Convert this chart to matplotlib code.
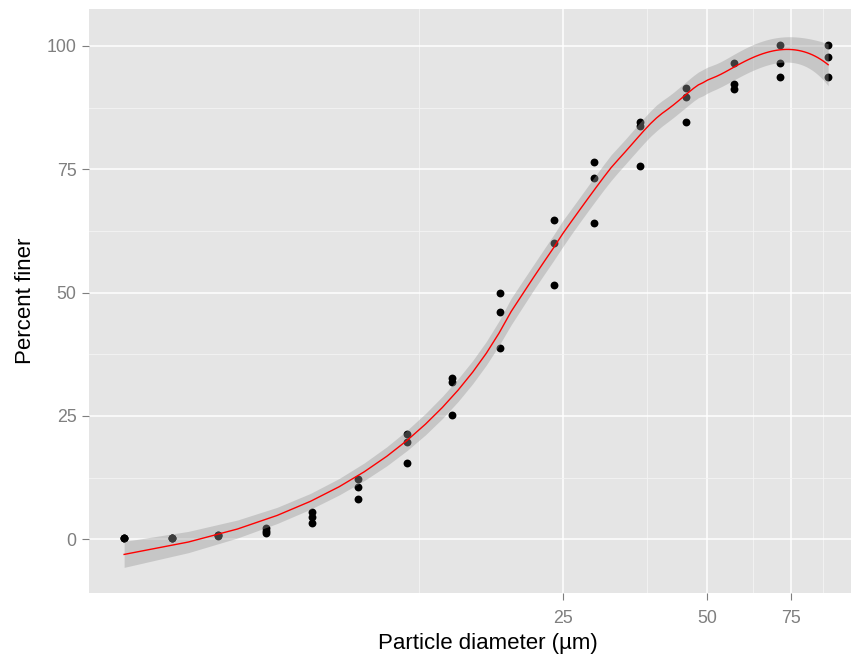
import matplotlib
matplotlib.use("Agg")
import matplotlib.pyplot as plt
from matplotlib.ticker import FixedLocator, NullFormatter
import numpy as np

# particle size (um), three replicate measurements per size
diam = [3.02, 3.81, 4.75, 5.99, 7.47, 9.33, 11.78, 14.66,
        18.46, 23.94, 29.0, 36.2, 45.25, 56.9, 71.2, 89.7]
rep1 = [0.2, 0.3, 0.9, 2.3, 5.5, 12.2, 21.3, 32.6, 50.0, 64.8, 76.4, 84.6, 91.5, 96.6, 100.1, 100.1]
rep2 = [0.2, 0.2, 0.8, 1.6, 4.6, 10.5, 19.8, 31.9, 46.0, 60.0, 73.2, 83.7, 89.7, 92.2, 96.6, 97.8]
rep3 = [0.2, 0.2, 0.7, 1.3, 3.4, 8.2, 15.5, 25.1, 38.7, 51.6, 64.1, 75.6, 84.5, 91.2, 93.7, 93.7]

x_breaks = [25, 50, 75]
x_minor = [12.5, 37.5, 62.5, 87.5]
y_breaks = [0, 25, 50, 75, 100]
y_minor = [12.5, 37.5, 62.5, 87.5]

x = np.repeat(np.array(diam), 3)
y = np.column_stack([rep1, rep2, rep3]).ravel()


def loess_matrix(x, xs, span=0.75):
    # local quadratic fit with tricube weights (like R loess defaults)
    n = len(x)
    q = int(np.floor(n * span))
    L = np.zeros((len(xs), n))
    for k, x0 in enumerate(xs):
        d = np.abs(x - x0)
        h = np.sort(d)[q - 1] * 1.001
        w = np.clip(1 - (d / h) ** 3, 0, None) ** 3
        X = np.column_stack([np.ones(n), x - x0, (x - x0) ** 2])
        XtW = X.T * w
        L[k] = np.linalg.solve(XtW @ X, XtW)[0]
    return L


# smooth is fitted on the untransformed x (coord_trans style)
xs = np.linspace(x.min(), x.max(), 80)
L = loess_matrix(x, xs)
fit = L @ y
H = loess_matrix(x, x)
res = y - H @ y
IH = np.eye(len(x)) - H
delta1 = np.trace(IH.T @ IH)
s = np.sqrt(np.sum(res ** 2) / delta1)
se = s * np.sqrt(np.sum(L ** 2, axis=1))
lo = fit - 2.02 * se
hi = fit + 2.02 * se

plt.rcParams['font.family'] = ['Liberation Sans', 'DejaVu Sans']

fig = plt.figure(figsize=(8.51, 6.6), dpi=100)
W, Hh = 851, 660
left, right, top, bottom = 89, 863.4, 9.3, 593.3
ax = fig.add_axes([left / W, 1 - bottom / Hh, (right - left) / W, (bottom - top) / Hh])
ax.set_facecolor("#E5E5E5")

ax.scatter(x, y, s=32, c="black", linewidths=0, zorder=3)
ax.fill_between(xs, lo, hi, color="#999999", alpha=0.4, linewidth=0, zorder=4)
ax.plot(xs, fit, color="red", lw=1.0, zorder=5)

ax.set_xscale("log")
ax.set_xlim(2.55, 106.3)
ax.set_ylim(-10.94, 107.4)

ax.xaxis.set_major_locator(FixedLocator(x_breaks))
ax.xaxis.set_minor_locator(FixedLocator(x_minor))
ax.xaxis.set_minor_formatter(NullFormatter())
ax.set_xticklabels([str(b) for b in x_breaks])
ax.yaxis.set_major_locator(FixedLocator(y_breaks))
ax.yaxis.set_minor_locator(FixedLocator(y_minor))
ax.set_yticklabels([str(b) for b in y_breaks])

ax.grid(which="major", color="white", lw=1.1, zorder=0)
ax.grid(which="minor", color="#F4F4F4", lw=0.6, zorder=0)
ax.set_axisbelow(True)
for sp in ax.spines.values():
    sp.set_visible(False)

ax.tick_params(which="major", length=5, width=0.8, color="#7F7F7F",
               labelcolor="#7F7F7F", labelsize=12.8, pad=4)
ax.tick_params(axis="x", which="major", pad=7)
ax.tick_params(which="minor", length=0)

ax.set_xlabel("Particle diameter (µm)", fontsize=16, color="black")
ax.set_ylabel("Percent finer", fontsize=16, color="black", labelpad=8)
ax.xaxis.set_label_coords((488 - left) / (right - left), -40 / (bottom - top))

fig.savefig("out.png", dpi=100)
